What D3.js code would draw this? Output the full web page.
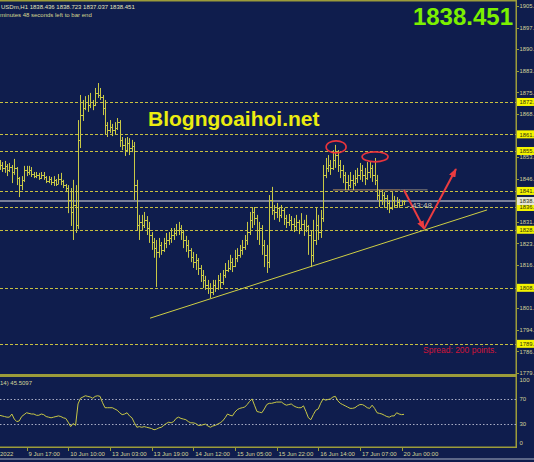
<!DOCTYPE html>
<html>
<head>
<meta charset="utf-8">
<script src="https://cdn.jsdelivr.net/npm/d3@7"></script>
<style>
body { margin: 0; background: #0f1d4d; }
svg { display: block; font-family: "Liberation Sans", Arial, sans-serif; }
</style>
</head>
<body>
<script>
var w = 534, h = 462;

// XAUUSDm H1 bars
var opens = [1851.5,1850.8,1849.8,1850.5,1849.1,1850.1,1848.4,1849.8,1846.3,1843.9,
1845.7,1849.1,1848.4,1849.1,1847.7,1847.0,1847.4,1846.3,1847.4,1846.7,
1845.3,1846.0,1845.0,1845.7,1844.3,1846.0,1845.3,1843.9,1842.9,1838.8,
1834.7,1837.1,1830.2,1859.4,1867.9,1870.3,1872.4,1871.4,1872.4,1871.4,
1875.5,1874.8,1874.1,1870.3,1864.5,1862.8,1863.8,1862.8,1863.5,1865.5,
1859.4,1857.7,1855.9,1858.3,1856.6,1857.3,1843.9,1830.2,1831.3,1830.2,
1831.9,1829.2,1826.8,1824.4,1822.3,1821.0,1823.4,1821.7,1824.1,1825.1,
1825.8,1826.8,1827.5,1828.5,1829.2,1827.8,1825.1,1823.4,1821.7,1819.3,
1817.5,1818.2,1815.5,1813.1,1811.4,1809.7,1808.6,1807.3,1809.7,1808.6,
1811.4,1810.7,1813.1,1814.8,1815.5,1817.5,1816.2,1818.9,1819.9,1821.7,
1822.7,1825.1,1827.8,1831.9,1834.7,1832.6,1828.5,1829.2,1823.4,1819.9,
1817.5,1838.8,1835.4,1834.7,1836.1,1833.6,1835.4,1832.6,1831.3,1831.9,
1830.6,1829.9,1831.3,1829.2,1830.6,1828.5,1829.9,1826.8,1819.9,1825.1,
1830.2,1827.8,1832.6,1847.4,1849.8,1850.8,1849.8,1852.5,1854.2,1850.8,
1849.1,1847.4,1845.0,1843.9,1845.7,1844.6,1846.3,1847.4,1849.1,1847.4,
1846.3,1848.4,1849.8,1847.4,1845.7,1840.5,1838.8,1840.5,1839.5,1837.8,
1836.1,1838.8,1837.1,1838.1,1837.1,1838.436];
var highs = [1852.5,1851.8,1852.2,1851.1,1851.5,1850.8,1852.9,1850.1,1846.7,1847.0,
1850.5,1850.5,1850.5,1850.1,1848.4,1848.4,1848.1,1848.4,1848.4,1847.0,
1847.0,1846.7,1847.0,1846.0,1847.7,1848.1,1845.7,1844.3,1843.9,1842.9,
1845.7,1843.9,1866.2,1874.8,1873.1,1874.4,1874.8,1875.5,1873.1,1877.2,
1878.9,1877.2,1874.8,1873.1,1865.5,1866.2,1864.9,1865.5,1866.9,1866.2,
1860.4,1860.0,1860.4,1860.0,1859.4,1858.7,1845.7,1833.7,1833.7,1834.7,
1833.3,1831.3,1827.8,1825.8,1825.1,1825.8,1824.4,1825.8,1827.5,1827.8,
1829.2,1829.2,1830.6,1831.3,1830.2,1828.5,1826.5,1825.1,1822.3,1821.0,
1820.3,1818.9,1816.5,1814.8,1812.8,1811.4,1810.3,1811.4,1811.4,1813.1,
1813.8,1814.8,1817.2,1818.2,1820.0,1818.9,1821.7,1822.3,1823.4,1825.1,
1826.8,1831.3,1834.7,1836.4,1836.4,1833.7,1831.3,1830.2,1825.1,1823.4,
1840.5,1843.3,1837.1,1837.8,1836.4,1837.1,1836.1,1833.7,1834.0,1833.3,
1832.6,1833.7,1832.0,1834.3,1832.0,1833.7,1830.2,1828.5,1832.0,1836.1,
1833.7,1835.4,1850.8,1853.2,1854.2,1852.5,1855.9,1857.7,1855.9,1852.5,
1850.8,1848.4,1847.4,1848.4,1847.4,1849.1,1849.8,1851.5,1850.8,1849.8,
1851.8,1851.8,1850.8,1853.2,1847.4,1842.2,1842.2,1841.5,1840.5,1838.8,
1841.5,1840.2,1839.8,1839.1,1838.8,1838.723];
var lows = [1849.1,1848.4,1848.1,1847.0,1848.4,1844.6,1847.4,1843.9,1839.8,1842.2,
1845.0,1847.0,1847.4,1846.7,1846.3,1846.3,1845.7,1846.0,1845.7,1844.6,
1844.6,1843.9,1843.6,1843.6,1844.3,1843.9,1842.9,1841.5,1834.3,1829.9,
1825.1,1827.5,1828.9,1856.6,1865.9,1869.6,1869.0,1870.3,1869.6,1871.0,
1873.8,1873.1,1867.9,1861.1,1860.4,1861.8,1860.7,1861.1,1862.8,1857.0,
1855.9,1853.9,1855.2,1854.2,1855.2,1838.8,1828.5,1825.1,1828.5,1829.2,
1826.8,1824.1,1821.7,1819.0,1809.0,1819.0,1820.0,1821.0,1822.3,1823.4,
1824.1,1825.1,1826.5,1826.8,1825.1,1822.3,1821.0,1819.0,1817.5,1815.5,
1814.8,1813.1,1810.7,1808.6,1808.0,1806.6,1805.2,1806.2,1807.3,1808.0,
1808.6,1809.7,1812.1,1814.1,1814.8,1814.1,1815.8,1817.5,1819.0,1820.0,
1821.7,1823.4,1826.8,1829.2,1830.2,1825.1,1823.4,1820.0,1815.8,1813.8,
1815.5,1833.7,1832.0,1832.6,1831.3,1832.6,1830.2,1829.2,1829.9,1828.5,
1827.8,1828.5,1827.1,1828.5,1826.5,1827.8,1820.0,1815.8,1817.5,1823.4,
1825.1,1825.8,1831.3,1846.3,1848.4,1847.4,1849.1,1849.8,1848.4,1846.3,
1844.6,1842.2,1842.2,1842.9,1842.2,1843.6,1844.6,1845.7,1845.0,1843.9,
1845.7,1846.3,1845.0,1843.9,1838.8,1836.4,1837.1,1836.1,1835.4,1834.3,
1835.4,1836.1,1836.4,1836.1,1836.8,1837.037];
var closes = [1850.8,1849.8,1850.5,1849.1,1850.1,1848.4,1849.8,1846.3,1843.9,1845.7,
1849.1,1848.4,1849.1,1847.7,1847.0,1847.4,1846.3,1847.4,1846.7,1845.3,
1846.0,1845.0,1845.7,1844.3,1846.0,1845.3,1843.9,1842.9,1838.8,1834.7,
1837.1,1830.2,1859.4,1867.9,1870.3,1872.4,1871.4,1872.4,1871.4,1875.5,
1874.8,1874.1,1870.3,1864.5,1862.8,1863.8,1862.8,1863.5,1865.5,1859.4,
1857.7,1855.9,1858.3,1856.6,1857.3,1843.9,1830.2,1831.3,1830.2,1831.9,
1829.2,1826.8,1824.4,1822.3,1821.0,1823.4,1821.7,1824.1,1825.1,1825.8,
1826.8,1827.5,1828.5,1829.2,1827.8,1825.1,1823.4,1821.7,1819.3,1817.5,
1818.2,1815.5,1813.1,1811.4,1809.7,1808.6,1807.3,1809.7,1808.6,1811.4,
1810.7,1813.1,1814.8,1815.5,1817.5,1816.2,1818.9,1819.9,1821.7,1822.7,
1825.1,1827.8,1831.9,1834.7,1832.6,1828.5,1829.2,1823.4,1819.9,1817.5,
1838.8,1835.4,1834.7,1836.1,1833.6,1835.4,1832.6,1831.3,1831.9,1830.6,
1829.9,1831.3,1829.2,1830.6,1828.5,1829.9,1826.8,1819.9,1825.1,1830.2,
1827.8,1832.6,1847.4,1849.8,1850.8,1849.8,1852.5,1854.2,1850.8,1849.1,
1847.4,1845.0,1843.9,1845.7,1844.6,1846.3,1847.4,1849.1,1847.4,1846.3,
1848.4,1849.8,1847.4,1845.7,1840.5,1838.8,1840.5,1839.5,1837.8,1836.1,
1838.8,1837.1,1838.1,1837.1,1838.4,1838.451];
var rsi = [44,43,42,41,41,46,38,34,35,42,
45,48,47,46,46,44,44,46,45,42,
41,40,41,42,43,42,40,39,33,26,
31,28,62,71,73,75,74,73,71,74,
75,74,64,56,56,56,56,54,52,48,
45,46,48,43,40,32,25,26,25,26,
25,24,23,21,22,24,25,28,31,33,
32,34,39,41,39,38,37,34,32,32,
31,28,28,29,30,27,25,27,28,30,
32,35,40,46,44,43,49,53,55,56,
57,61,66,70,60,50,49,48,54,61,
63,63,64,65,65,65,62,60,61,62,
59,57,56,56,59,50,40,37,45,52,
54,63,70,68,69,70,73,74,67,63,
61,59,57,55,55,56,59,61,61,59,
56,55,60,55,48,47,46,44,42,41,
43,43,48,46,45,45.5097];

var priceTicks = [1779.5,1786.9,1794.3,1801.7,1816.5,1823.9,1831.3,1846.1,1853.5,1868.3,1875.7,1883.1,1890.5,1897.9,1905.3];
var levels = [1872.4,1861.3,1855.6,1841.9,1836.4,1828.6,1808.7,1789.5];
var rsiTicks = [100,70,30,0];
var rsiLevels = [70,30];
var timeIdx = [-7,11,28,45,62,79,96,113,130,147,164];
var timeLabels = ["2022","9 Jun 17:00","10 Jun 10:00","13 Jun 03:00","13 Jun 19:00","14 Jun 12:00","15 Jun 05:00","15 Jun 22:00","16 Jun 14:00","17 Jun 07:00","20 Jun 00:00"];

// drawings on the chart (bar index, price)
var trendLine = [[61.4,1798.3],[198.9,1835.4]];
var neckLine = [[136,1842.3],[163.5,1842.3]];
var neckTail = [[163.5,1842.3],[174.6,1842.3]];
var arrowDown = [[165,1842.2],[173.2,1828.9]];
var arrowUp = [[173.2,1828.9],[186.2,1849.4]];
var tops = [[137.3,1857.0,10,6],[153.2,1853.6,13,5]];

var bg = "#0f1d4d", olive = "#9c9c3a", barCol = "#c8c846", txtCol = "#d4d49a";
var short = function (d) { return d3.format(".3f")(d).slice(0, 5); };

var svg = d3.select("body").append("svg").attr("width", w).attr("height", h);
svg.append("rect").attr("width", w).attr("height", h).attr("fill", bg);

var xScale = d3.scaleLinear().domain([0, 165]).range([-0.4, 404]);
var yScale = d3.scaleLinear().domain([1779.5, 1905.3]).range([373, 6]);
var rsiScale = d3.scaleLinear().domain([0, 100]).range([443, 380]);
var axisX = 516;

svg.append("clipPath").attr("id", "main").append("rect").attr("x", 0).attr("y", 0).attr("width", axisX).attr("height", 374);
var main = svg.append("g").attr("clip-path", "url(#main)");

// horizontal levels
main.selectAll(".lvl").data(levels).enter().append("line")
    .attr("x1", 0).attr("x2", axisX)
    .attr("y1", function (d) { return Math.round(yScale(d)) + 0.5; })
    .attr("y2", function (d) { return Math.round(yScale(d)) + 0.5; })
    .attr("stroke", "#c8c040").attr("stroke-dasharray", "3,2");

// bid line
main.append("line").attr("x1", 0).attr("x2", axisX)
    .attr("y1", yScale(closes[closes.length - 1])).attr("y2", yScale(closes[closes.length - 1]))
    .attr("stroke", "#9da0b4").attr("stroke-width", 1.5);

var line = d3.line().x(function (d) { return xScale(d[0]); }).y(function (d) { return yScale(d[1]); });

main.append("path").attr("d", line(trendLine)).attr("stroke", "#cfcf44").attr("fill", "none");
main.append("path").attr("d", line(neckLine)).attr("stroke", "#96785a").attr("stroke-width", 1.3).attr("fill", "none");
main.append("path").attr("d", line(neckTail)).attr("stroke", "#6c6a70").attr("stroke-width", 1.3).attr("fill", "none");

// OHLC bars
var bars = main.selectAll(".bar").data(closes).enter().append("g").attr("stroke", barCol).attr("stroke-width", 1);
bars.append("line")
    .attr("x1", function (d, i) { return Math.round(xScale(i)) + 0.5; })
    .attr("x2", function (d, i) { return Math.round(xScale(i)) + 0.5; })
    .attr("y1", function (d, i) { return yScale(highs[i]); })
    .attr("y2", function (d, i) { return yScale(lows[i]); });
bars.append("line")
    .attr("x1", function (d, i) { return Math.round(xScale(i)) - 1; })
    .attr("x2", function (d, i) { return Math.round(xScale(i)) + 0.5; })
    .attr("y1", function (d, i) { return Math.round(yScale(opens[i])) + 0.5; })
    .attr("y2", function (d, i) { return Math.round(yScale(opens[i])) + 0.5; });
bars.append("line")
    .attr("x1", function (d, i) { return Math.round(xScale(i)) + 0.5; })
    .attr("x2", function (d, i) { return Math.round(xScale(i)) + 2; })
    .attr("y1", function (d) { return Math.round(yScale(d)) + 0.5; })
    .attr("y2", function (d) { return Math.round(yScale(d)) + 0.5; });

// double top marks
main.selectAll(".top").data(tops).enter().append("ellipse")
    .attr("cx", function (d) { return xScale(d[0]); })
    .attr("cy", function (d) { return yScale(d[1]); })
    .attr("rx", function (d) { return d[2]; })
    .attr("ry", function (d) { return d[3]; })
    .attr("fill", "none").attr("stroke", "#e8343c").attr("stroke-width", 1.6);

svg.append("defs").append("marker").attr("id", "head")
    .attr("markerUnits", "userSpaceOnUse").attr("markerWidth", 9).attr("markerHeight", 7)
    .attr("refX", 8).attr("refY", 3.5).attr("orient", "auto")
    .append("path").attr("d", "M0,0L9,3.5L0,7Z").attr("fill", "#ec3c40");
[arrowDown, arrowUp].forEach(function (a) {
    main.append("path").attr("d", line(a)).attr("stroke", "#ec3c40").attr("stroke-width", 2)
        .attr("fill", "none").attr("marker-end", "url(#head)");
});

// texts on chart
svg.append("text").attr("x", 1).attr("y", 8.5).attr("font-size", 6).attr("fill", "#e4e4bc")
    .text("USDm,H1  1838.436 1838.723 1837.037 1838.451");
svg.append("text").attr("x", 0).attr("y", 17).attr("font-size", 6).attr("fill", "#d8d890")
    .text("minutes 48 seconds left to bar end");
svg.append("text").attr("x", 513).attr("y", 25).attr("text-anchor", "end").attr("font-size", 24)
    .attr("font-weight", "bold").attr("fill", "#7cf000").text(d3.format(".3f")(closes[closes.length - 1]));
svg.append("text").attr("x", 148).attr("y", 126).attr("font-size", 21).attr("font-weight", "bold")
    .attr("fill", "#ecec10").text("Blogngoaihoi.net");
svg.append("text").attr("x", 407).attr("y", 208).attr("font-size", 8).attr("fill", "#c8c8b8").text("- 43:48");
svg.append("text").attr("x", 423).attr("y", 353).attr("font-size", 8.5).attr("fill", "#d01438").text("Spread: 200 points.");

// frame
svg.append("rect").attr("x", 0).attr("y", 0).attr("width", axisX + 1).attr("height", 1.5).attr("fill", olive);
svg.append("rect").attr("x", 0).attr("y", 374).attr("width", axisX + 1).attr("height", 3).attr("fill", olive);
svg.append("rect").attr("x", axisX - 0.5).attr("y", 0).attr("width", 1.5).attr("height", 448).attr("fill", olive);
svg.append("rect").attr("x", 0).attr("y", 446.5).attr("width", axisX + 1).attr("height", 1.5).attr("fill", olive);
svg.append("rect").attr("x", 0).attr("y", 458.5).attr("width", w).attr("height", 1).attr("fill", "#aab2c4");

// price axis
var pa = svg.append("g").attr("font-size", 5.8);
pa.selectAll(".pt").data(priceTicks).enter().append("line")
    .attr("x1", axisX + 1).attr("x2", axisX + 3)
    .attr("y1", function (d) { return Math.round(yScale(d)) + 0.5; })
    .attr("y2", function (d) { return Math.round(yScale(d)) + 0.5; })
    .attr("stroke", olive);
pa.selectAll(".pl").data(priceTicks).enter().append("text")
    .attr("x", axisX + 3.5).attr("y", function (d) { return yScale(d) + 2.2; })
    .attr("fill", txtCol).text(short);
var lv = pa.selectAll(".lb").data(levels.concat([closes[closes.length - 1]])).enter().append("g");
lv.append("rect").attr("x", axisX + 1).attr("y", function (d) { return yScale(d) - 4; })
    .attr("width", 20).attr("height", 8)
    .attr("fill", function (d, i) { return i === levels.length ? "#e6e6d2" : "#f4f400"; });
lv.append("text").attr("x", axisX + 3.5).attr("y", function (d) { return yScale(d) + 2.2; })
    .attr("fill", "#303010").text(short);

// RSI window
svg.append("text").attr("x", 0).attr("y", 385).attr("font-size", 6).attr("fill", txtCol)
    .text("14) " + d3.format(".4f")(rsi[rsi.length - 1]));
svg.selectAll(".rl").data(rsiLevels).enter().append("line")
    .attr("x1", 0).attr("x2", axisX)
    .attr("y1", function (d) { return Math.round(rsiScale(d)) + 0.5; })
    .attr("y2", function (d) { return Math.round(rsiScale(d)) + 0.5; })
    .attr("stroke", "#a8acc4").attr("stroke-dasharray", "1.5,2");
svg.append("path")
    .attr("d", d3.line().x(function (d, i) { return xScale(i); }).y(function (d) { return rsiScale(d); })(rsi))
    .attr("fill", "none").attr("stroke", barCol).attr("stroke-width", 1);
svg.selectAll(".rt").data(rsiTicks).enter().append("text")
    .attr("x", axisX + 3.5).attr("y", function (d) { return rsiScale(d) + 2.2; })
    .attr("font-size", 6).attr("fill", txtCol).text(function (d) { return d; });

// time axis
svg.selectAll(".tt").data(timeIdx.slice(1)).enter().append("line")
    .attr("x1", function (d) { return Math.round(xScale(d)) + 0.5; })
    .attr("x2", function (d) { return Math.round(xScale(d)) + 0.5; })
    .attr("y1", 448).attr("y2", 451).attr("stroke", olive);
svg.selectAll(".tl").data(timeIdx).enter().append("text")
    .attr("x", function (d, i) { return i === 0 ? 0 : xScale(d) + 2; }).attr("y", 456)
    .attr("font-size", 6).attr("fill", txtCol)
    .text(function (d, i) { return timeLabels[i]; });
</script>
</body>
</html>
